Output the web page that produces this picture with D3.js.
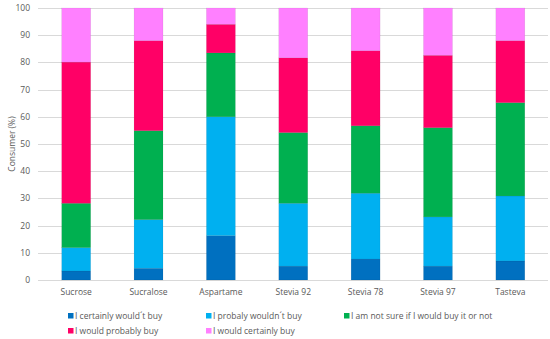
<!DOCTYPE html>
<html>
<meta charset="utf-8">
<head>
<script src="https://cdn.jsdelivr.net/npm/d3@7"></script>
<style>
  body { margin: 0; background: #fff; }
  text { font-family: "Open Sans", "Liberation Sans", sans-serif; fill: #595959; }
</style>
</head>
<body>
<script>
// data
var products = ["Sucrose", "Sucralose", "Aspartame", "Stevia 92", "Stevia 78", "Stevia 97", "Tasteva"];
var answers = ["I certainly would´t buy", "I probaly wouldn´t buy", "I am not sure if I would buy it or not",
               "I would probably buy", "I would certainly buy"];
var certainlyNot = [3.3, 4.3, 16.3, 5.1, 7.7, 5.1, 7.0];
var probablyNot  = [8.6, 17.9, 43.7, 23.1, 24.2, 18.1, 23.9];
var notSure      = [16.3, 32.7, 23.5, 26.0, 24.8, 32.8, 34.3];
var probably     = [51.9, 33.1, 10.5, 27.5, 27.6, 26.6, 22.8];
var certainly    = [19.9, 12.0, 6.0, 18.3, 15.7, 17.4, 12.0];
var yTicks = [0, 10, 20, 30, 40, 50, 60, 70, 80, 90, 100];
var colors = ["#0070c0", "#00b0f0", "#00b050", "#ff0066", "#ff80ff"];

var width = 550, height = 339;
var svg = d3.select("body").append("svg")
  .attr("width", width).attr("height", height);

var series = [certainlyNot, probablyNot, notSure, probably, certainly];
var rows = products.map(function (p, i) {
  var r = { name: p };
  answers.forEach(function (a, k) { r[a] = series[k][i]; });
  return r;
});
var stack = d3.stack().keys(answers)(rows);

var x = d3.scaleBand().domain(products).range([40, 546.5]).paddingInner(0.6).paddingOuter(0.3);
var y = d3.scaleLinear().domain([0, 100]).range([280, 8]);

// grid
svg.append("g").selectAll("line")
  .data(yTicks)
  .join("line")
  .attr("x1", 38).attr("x2", 548)
  .attr("y1", function (d) { return Math.round(y(d)) + 0.5; })
  .attr("y2", function (d) { return Math.round(y(d)) + 0.5; })
  .attr("stroke", "#d9d9d9").attr("stroke-width", 1);

// y tick labels
svg.append("g").selectAll("text")
  .data(yTicks)
  .join("text")
  .attr("x", 30).attr("y", function (d) { return y(d); })
  .attr("dy", "0.35em").attr("text-anchor", "end")
  .style("font-size", "8.5px")
  .text(function (d) { return d; });

svg.append("text")
  .attr("transform", "translate(12," + y(50) + ") rotate(-90)")
  .attr("text-anchor", "middle").attr("dy", "0.35em")
  .style("font-size", "8.5px")
  .text("Consumer (%)");

// bars
svg.append("g").selectAll("g")
  .data(stack)
  .join("g")
  .attr("fill", function (d, i) { return colors[i]; })
  .selectAll("rect")
  .data(function (d) { return d; })
  .join("rect")
  .attr("x", function (d) { return x(d.data.name); })
  .attr("width", x.bandwidth())
  .attr("y", function (d) { return y(d[1]); })
  .attr("height", function (d) { return y(d[0]) - y(d[1]); })
  .attr("stroke", "rgba(0,0,0,0.12)").attr("stroke-width", 0.5);

// x labels
svg.append("g").selectAll("text")
  .data(products)
  .join("text")
  .attr("x", function (d) { return x(d) + x.bandwidth() / 2; })
  .attr("y", 295).attr("text-anchor", "middle")
  .style("font-size", "8.5px")
  .text(function (d) { return d; });

// legend
var legPos = [[68, 316], [206, 316], [344, 316], [68, 331], [206, 331]];
var leg = svg.append("g").selectAll("g")
  .data(answers)
  .join("g")
  .attr("transform", function (d, i) { return "translate(" + legPos[i][0] + "," + legPos[i][1] + ")"; });
leg.append("rect")
  .attr("x", 0).attr("y", -3).attr("width", 5.5).attr("height", 5.5)
  .attr("fill", function (d, i) { return colors[i]; });
leg.append("text")
  .attr("x", 7).attr("y", 0).attr("dy", "0.35em")
  .style("font-size", "8.5px")
  .text(function (d) { return d; });
</script>
</body>
</html>
